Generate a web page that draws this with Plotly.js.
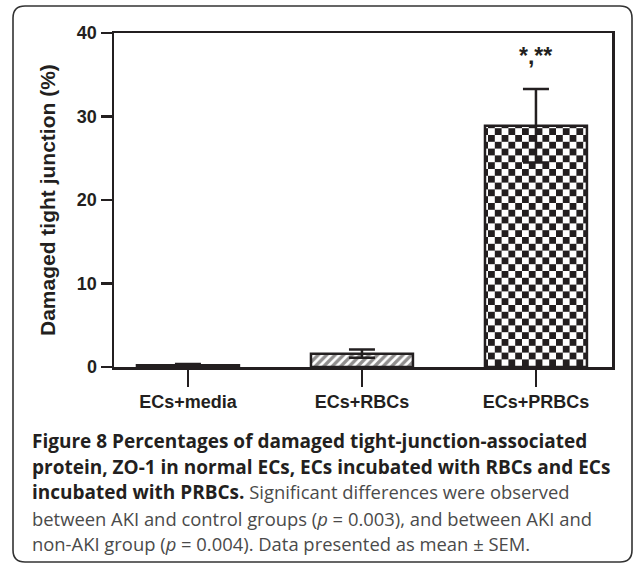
<!DOCTYPE html>
<html>
<head>
<meta charset="utf-8">
<script src="https://cdn.plot.ly/plotly-3.0.1.min.js"></script>
<style>
html,body{margin:0;padding:0;background:#fff;}
#chart{width:634px;height:564px;}
</style>
</head>
<body>
<div id="chart"></div>
<script>
// ---- data ----
var categories = ['ECs+media', 'ECs+RBCs', 'ECs+PRBCs'];
var values = [0.2, 1.6, 28.9];
var sem = [0.15, 0.5, 4.4];
var yTicks = [0, 10, 20, 30, 40];
var sigLabel = '*,**';
var yTitle = 'Damaged tight junction (%)';
var captionLines = [
  '<b>Figure 8 Percentages of damaged tight-junction-associated</b>',
  '<b>protein, ZO-1 in normal ECs, ECs incubated with RBCs and ECs</b>',
  '<b>incubated with PRBCs.</b><span style="color:#4a4a4a"> Significant differences were observed</span>',
  '<span style="color:#4a4a4a">between AKI and control groups (<i>p</i> = 0.003), and between AKI and</span>',
  '<span style="color:#4a4a4a">non-AKI group (<i>p</i> = 0.004). Data presented as mean ± SEM.</span>'
];

// ---- layout geometry ----
var W = 634, H = 564;
var L = 114, R = 612, T = 33, B = 367;
var INK = '#231f20';
function px(x){ return (x - L) / (R - L); }
function py(y){ return (B - y) / (B - T); }

var trace = {
  type: 'bar',
  x: categories,
  y: values,
  width: 0.586,
  marker: {
    color: '#ffffff',
    line: {color: INK, width: 2.5},
    pattern: {
      shape: ['', '/', '+'],
      fgcolor: INK,
      bgcolor: '#ffffff',
      size: 6,
      solidity: 0.55,
      fillmode: 'overlay'
    }
  },
  error_y: {
    type: 'data',
    array: sem,
    symmetric: true,
    color: INK,
    thickness: 2.5,
    width: 13
  },
  hoverinfo: 'none'
};

// rounded frame
var bx0 = 13, bx1 = 632, by0 = 6, by1 = 562, rr = 12;
function P(x, y){ return px(x).toFixed(5) + ',' + py(y).toFixed(5); }
var framePath = 'M' + P(bx0 + rr, by0) +
  ' L' + P(bx1 - rr, by0) +
  ' Q' + P(bx1, by0) + ' ' + P(bx1, by0 + rr) +
  ' L' + P(bx1, by1 - rr) +
  ' Q' + P(bx1, by1) + ' ' + P(bx1 - rr, by1) +
  ' L' + P(bx0 + rr, by1) +
  ' Q' + P(bx0, by1) + ' ' + P(bx0, by1 - rr) +
  ' L' + P(bx0, by0 + rr) +
  ' Q' + P(bx0, by0) + ' ' + P(bx0 + rr, by0) + ' Z';

var annotations = [
  {
    xref: 'x', yref: 'y', x: categories[2], y: values[2] + sem[2],
    yshift: 33, text: '<b>' + sigLabel + '</b>', showarrow: false,
    font: {family: 'Liberation Sans, Arial, sans-serif', size: 23, color: INK}
  },
  {
    xref: 'paper', yref: 'paper', x: px(47), y: py(200),
    text: '<b>' + yTitle + '</b>', textangle: -90, showarrow: false,
    xanchor: 'center', yanchor: 'middle',
    font: {family: 'Liberation Sans, Arial, sans-serif', size: 21, color: INK}
  }
];
var capY = [441, 467, 492, 518, 543];
captionLines.forEach(function(t, i){
  annotations.push({
    xref: 'paper', yref: 'paper', x: px(30), y: py(capY[i]),
    xanchor: 'left', yanchor: 'middle', align: 'left',
    text: t.replace(/<b>/g, '<b><span style="font-size:19px">').replace(/<\/b>/g, '</span></b>'),
    showarrow: false,
    font: {family: 'Open Sans, sans-serif', size: 18.4, color: INK}
  });
});

var layout = {
  width: W, height: H,
  margin: {l: L, r: W - R, t: T, b: H - B, pad: 0},
  paper_bgcolor: '#ffffff',
  plot_bgcolor: '#ffffff',
  showlegend: false,
  xaxis: {
    type: 'category',
    range: [-0.425, 2.437],
    showline: true, linecolor: INK, linewidth: 2.5, mirror: true,
    ticks: 'outside', ticklen: 17, tickwidth: 2.5, tickcolor: INK,
    showgrid: false, zeroline: false,
    tickfont: {family: 'Liberation Sans, Arial, sans-serif', size: 18, color: INK, weight: 'bold'}
  },
  yaxis: {
    range: [0, 40],
    tickvals: yTicks,
    ticktext: yTicks.map(String),
    showline: true, linecolor: INK, linewidth: 2.5, mirror: true,
    ticks: 'outside', ticklen: 11, tickwidth: 2.5, tickcolor: INK,
    showgrid: false, zeroline: false,
    tickfont: {family: 'Liberation Sans, Arial, sans-serif', size: 18, color: INK, weight: 'bold'}
  },
  shapes: [{
    type: 'path', xref: 'paper', yref: 'paper', path: framePath,
    line: {color: '#333333', width: 1.6}, fillcolor: 'rgba(0,0,0,0)', layer: 'below'
  }],
  annotations: annotations
};

var gd = document.getElementById('chart');
var CHECK = 6.8;
function checker(){
  try {
    var pts = gd.querySelectorAll('.barlayer .trace .point path');
    if (pts.length < 3) return;
    var f = pts[2].style.fill || pts[2].getAttribute('fill') || '';
    var m = /#([^'")]+)/.exec(f);
    if (!m) return;
    var pat = document.getElementById(m[1]);
    if (!pat || pat.getAttribute('data-checker')) return;
    pat.setAttribute('data-checker', '1');
    pat.setAttribute('width', 2 * CHECK);
    pat.setAttribute('height', 2 * CHECK);
    pat.setAttribute('patternUnits', 'userSpaceOnUse');
    pat.removeAttribute('patternTransform');
    while (pat.firstChild) pat.removeChild(pat.firstChild);
    var ns = 'http://www.w3.org/2000/svg';
    [[0, 0, 2 * CHECK, 2 * CHECK, '#ffffff'], [0, 0, CHECK, CHECK, INK], [CHECK, CHECK, CHECK, CHECK, INK]].forEach(function(r){
      var el = document.createElementNS(ns, 'rect');
      el.setAttribute('x', r[0]); el.setAttribute('y', r[1]);
      el.setAttribute('width', r[2]); el.setAttribute('height', r[3]);
      el.setAttribute('fill', r[4]);
      pat.appendChild(el);
    });
  } catch (e) {}
}
Plotly.newPlot(gd, [trace], layout, {staticPlot: true, displayModeBar: false}).then(function(){
  checker();
  gd.on && gd.on('plotly_afterplot', checker);
});
</script>
</body>
</html>
